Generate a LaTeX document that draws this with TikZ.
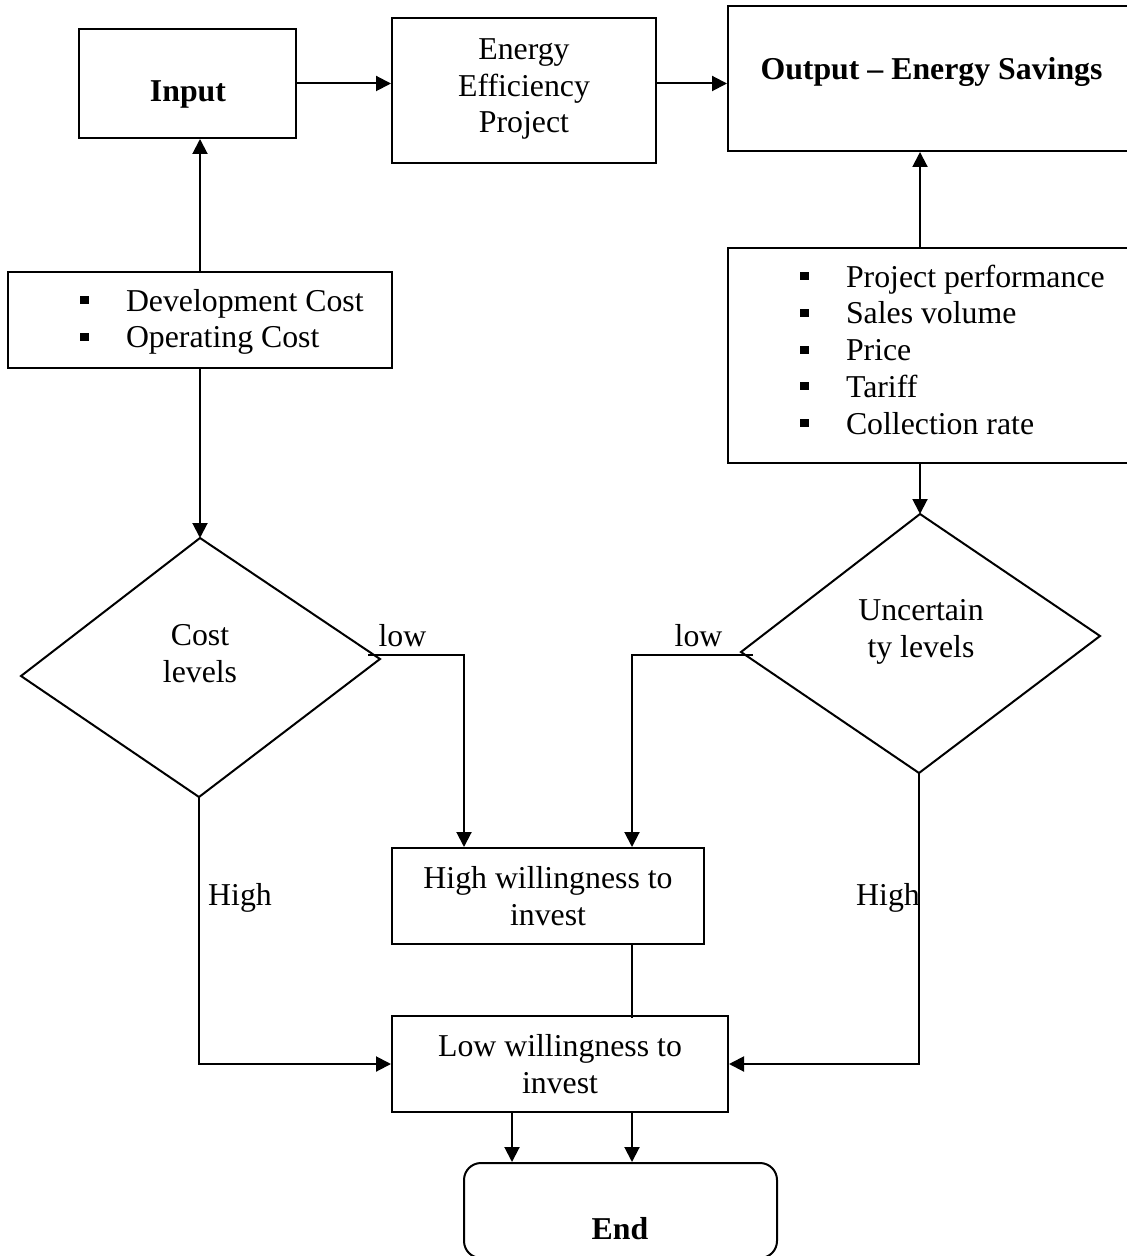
\documentclass[tikz,border=0pt]{standalone}
\usepackage{fontspec}
\setmainfont{Liberation Serif}
\usetikzlibrary{arrows.meta}
% square list bullet followed by the indent of the item text
\newcommand\sqbul{\makebox[23pt][l]{\rule[3.5pt]{4.5pt}{4pt}}}
\begin{document}
\begin{tikzpicture}[x=0.5pt, y=-0.5pt, line width=1pt,
  font=\fontsize{15.9}{18.35}\selectfont,
  box/.style={draw, rectangle, inner sep=0pt},
  txt/.style={inner sep=0pt, align=center, anchor=base},
  lst/.style={inner sep=0pt, align=left, anchor=base west},
  arr/.style={-{Triangle[length=7.5pt,width=7.5pt]}}]
\useasboundingbox (0,0) rectangle (1127,1256);
\clip (0,0) rectangle (1127,1256);
\fill[white] (0,0) rectangle (1127,1256);

% top row (multi-line texts are placed by the baseline of their last line)
\node[box, minimum width=108.5pt, minimum height=54.5pt] (input) at (187.5,83.5) {};
\node[txt] at (188,102) {\bfseries Input};
\node[box, minimum width=132pt, minimum height=72.5pt] (eep) at (524,90.5) {};
\node[txt] at (524,133) {Energy\\Efficiency\\Project};
\node[box, minimum width=206pt, minimum height=72.5pt] (output) at (934,78.5) {};
\node[txt] at (931.5,80) {\bfseries Output -- Energy Savings};

% factor lists
\node[box, minimum width=192pt, minimum height=48pt] (costs) at (200,320) {};
\node[lst] at (79,348) {\sqbul Development Cost\\ \sqbul Operating Cost};
\node[box, minimum width=206pt, minimum height=107.5pt] (obul) at (934,355.5) {};
\node[lst] at (799,434) {\sqbul Project performance\\ \sqbul Sales volume\\ \sqbul Price\\ \sqbul Tariff\\ \sqbul Collection rate};

% decisions
\coordinate (ctop) at (200,538);
\coordinate (cright) at (380,659);
\coordinate (cbot) at (199,797);
\coordinate (cleft) at (21,676);
\draw[line join=miter] (ctop) -- (cright) -- (cbot) -- (cleft) -- cycle;
\node[txt] at (200,682) {Cost\\levels};
\coordinate (utop) at (920,514);
\coordinate (uright) at (1100,636);
\coordinate (ubot) at (919,773);
\coordinate (uleft) at (741,652);
\draw[line join=miter] (utop) -- (uright) -- (ubot) -- (uleft) -- cycle;
\node[txt] at (921,657) {Uncertain\\ty levels};

% outcomes
\node[box, minimum width=156pt, minimum height=48pt] (high) at (548,896) {};
\node[txt] at (548,925) {High willingness to\\invest};
\node[box, minimum width=168pt, minimum height=48pt] (low) at (560,1064) {};
\node[txt] at (560,1093) {Low willingness to\\invest};
\node[box, rounded corners=8.5pt, minimum width=156.5pt, minimum height=47.5pt] (end) at (620.5,1210.5) {};
\node[txt] at (620,1239) {\bfseries End};

% connectors
\draw[arr] (input.east) -- (input.east -| eep.west);
\draw[arr] (eep.east |- input.east) -- (output.west |- input.east);
\draw[arr] (costs.north) -- (costs.north |- input.south);
\draw[arr] (costs.south) -- (ctop);
\draw[arr] (utop |- obul.north) -- (utop |- output.south);
\draw[arr] (utop |- obul.south) -- (utop);

\coordinate (clow) at (368,655);
\coordinate (ulow) at (753,655);
\draw[arr] (clow) -| (464,0 |- high.north);
\draw[arr] (ulow) -| (632,0 |- high.north);
\draw[arr] (cbot) |- (low.west);
\draw[arr] (ubot) |- (low.east);
\draw (632,0 |- high.south) -- ([yshift=-1.5pt]632,0 |- low.north);
\draw[arr] (512,0 |- low.south) -- (512,0 |- end.north);
\draw[arr] (632,0 |- low.south) -- (632,0 |- end.north);

% branch labels
\node[txt] at (402.5,646) {low};
\node[txt] at (698.5,646) {low};
\node[txt] at (240,905) {High};
\node[txt] at (888,905) {High};
\end{tikzpicture}
\end{document}
